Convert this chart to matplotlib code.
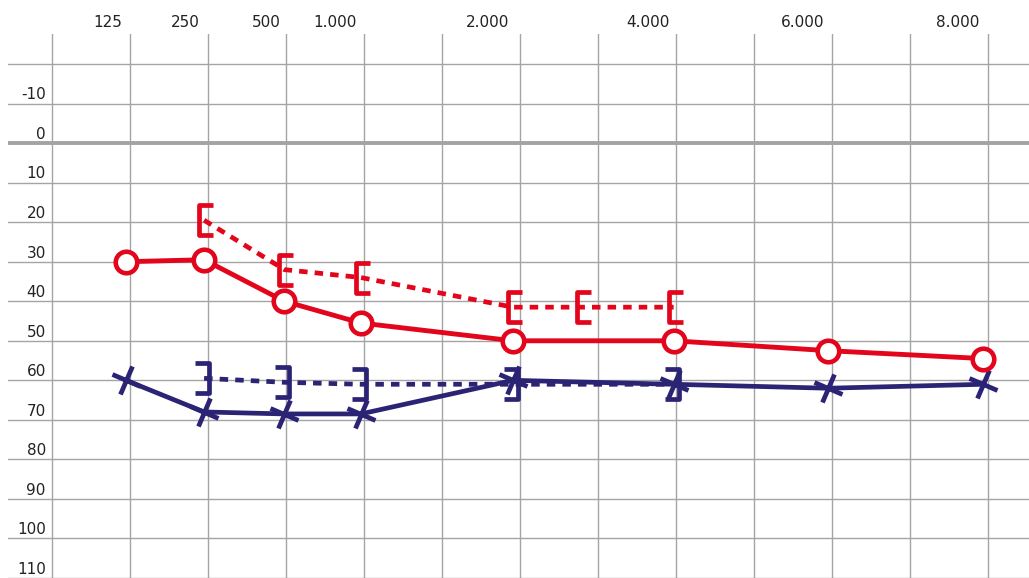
import matplotlib
matplotlib.use("Agg")
import matplotlib.pyplot as plt
from matplotlib.markers import MarkerStyle
from matplotlib.path import Path
from matplotlib.transforms import Affine2D

# audiogram data (dB HL)
tick_freqs = [125, 250, 500, 1000, 2000, 4000, 6000, 8000]
tick_labels = ["125", "250", "500", "1.000", "2.000", "4.000", "6.000", "8.000"]
db_levels = [-10, 0, 10, 20, 30, 40, 50, 60, 70, 80, 90, 100, 110]

right_air_freqs = [125, 250, 500, 1000, 2000, 4000, 6000, 8000]
right_air_db = [30, 29.5, 40, 45.5, 50, 50, 52.5, 54.5]

right_bone_freqs = [250, 500, 1000, 2000, 3000, 4000]
right_bone_db = [19.5, 32, 34, 41.5, 41.5, 41.5]

left_air_freqs = [125, 250, 500, 1000, 2000, 4000, 6000, 8000]
left_air_db = [60, 68, 68.5, 68.5, 60, 61, 62, 61]

left_bone_freqs = [250, 500, 1000, 2000, 4000]
left_bone_db = [59.5, 60.5, 61, 61, 61]

# horizontal scale of the chart (frequency -> column)
freq_pos = {125: 0.95, 250: 1.95, 500: 2.98, 1000: 3.96, 2000: 5.91,
            3000: 6.79, 4000: 7.97, 6000: 9.95, 8000: 11.94}

RED = "#e3051b"
BLUE = "#2b2474"
GRID = "#a4a4a4"

fig = plt.figure(figsize=(10.29, 5.78), dpi=100)
ax = fig.add_axes([8 / 1029, 0, 1 - 8 / 1029, 1 - 34 / 578])
ax.set_xlim(-0.564, 12.526)
ax.set_ylim(110, -27.6)
ax.axis("off")

for v in range(-20, 111, 10):
    if v == 0:
        ax.axhline(v, color="#a3a3a3", lw=2.8, zorder=1)
    else:
        ax.axhline(v, color=GRID, lw=1.0, zorder=1)
for u in range(13):
    ax.axvline(u, color=GRID, lw=1.0, zorder=1)

for v in db_levels:
    ax.text(-0.08, v - 2.2, str(v), ha="right", va="center", fontsize=11,
            color="#222222")
for f, lab in zip(tick_freqs, tick_labels):
    ax.text(freq_pos[f] - 0.05, -30.4, lab, ha="right", va="center",
            fontsize=11, color="#222222", clip_on=False)

# markers
codes = [Path.MOVETO, Path.LINETO, Path.LINETO, Path.LINETO]
open_br = Path([(0.6, 1), (-0.3, 1), (-0.3, -1), (0.6, -1)], codes)
close_br = Path([(-0.6, 1), (0.3, 1), (0.3, -1), (-0.6, -1)], codes)
m_open = MarkerStyle(open_br, joinstyle="miter", capstyle="butt")
m_close = MarkerStyle(close_br, joinstyle="miter", capstyle="butt")
m_cross = MarkerStyle("+", transform=Affine2D().rotate_deg(-22), capstyle="butt")

rx = [freq_pos[f] for f in right_air_freqs]
rbx = [freq_pos[f] for f in right_bone_freqs]
lx = [freq_pos[f] for f in left_air_freqs]
lbx = [freq_pos[f] for f in left_bone_freqs]

ax.plot(lbx, left_bone_db, color=BLUE, lw=3.4, linestyle=(0, (1.8, 1.5)),
        zorder=3)
ax.plot(lbx, left_bone_db, linestyle="none", marker=m_close, ms=22,
        mfc="none", mec=BLUE, mew=3.4, zorder=4)
ax.plot(lx, left_air_db, color=BLUE, lw=3.4, zorder=4)
ax.plot(lx, left_air_db, linestyle="none", marker=m_cross, ms=22,
        mec=BLUE, mew=3.4, zorder=5)

ax.plot(rbx, right_bone_db, color=RED, lw=3.4, linestyle=(0, (1.8, 1.5)),
        zorder=3)
ax.plot(rbx, right_bone_db, linestyle="none", marker=m_open, ms=22,
        mfc="none", mec=RED, mew=3.4, zorder=4)
ax.plot(rx, right_air_db, color=RED, lw=3.5, marker="o", ms=15.5,
        mfc="white", mec=RED, mew=3.3, zorder=6)

fig.savefig("out.png", dpi=100)
